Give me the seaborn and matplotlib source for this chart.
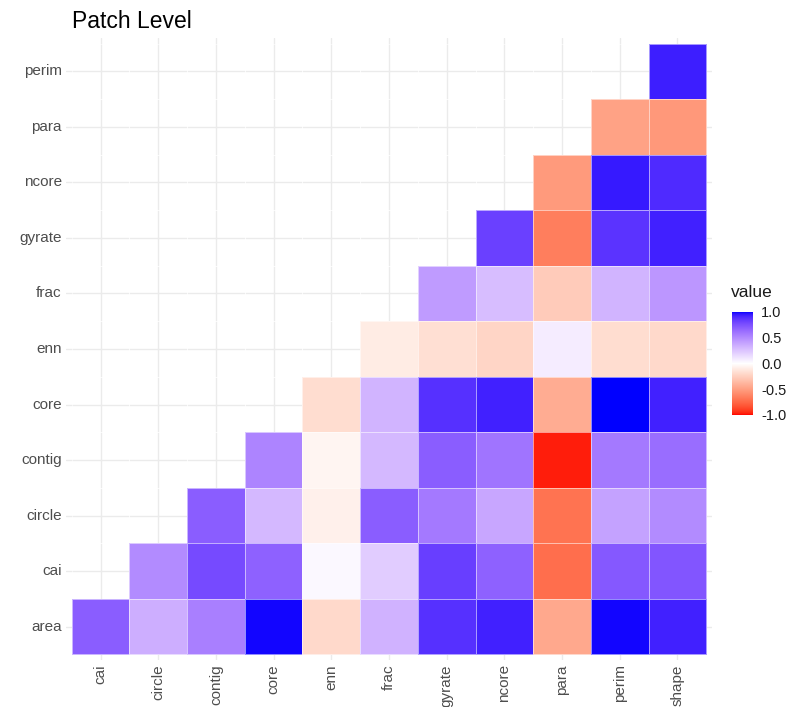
import numpy as np
import pandas as pd
import matplotlib
matplotlib.use("Agg")
import matplotlib.pyplot as plt
from matplotlib.colors import ListedColormap
import seaborn as sns

# Metric names along each axis
x_labels = ["cai", "circle", "contig", "core", "enn", "frac",
            "gyrate", "ncore", "para", "perim", "shape"]
y_labels = ["area", "cai", "circle", "contig", "core", "enn",
            "frac", "gyrate", "ncore", "para", "perim"]

# Correlations per row (row metric vs. the columns to its right)
r_area = [0.70, 0.35, 0.55, 0.99, -0.20, 0.33, 0.88, 0.93, -0.45, 0.99, 0.93]
r_cai = [0.50, 0.78, 0.68, 0.03, 0.22, 0.83, 0.68, -0.72, 0.72, 0.73]
r_circle = [0.70, 0.30, -0.08, 0.70, 0.58, 0.38, -0.70, 0.40, 0.50]
r_contig = [0.53, -0.05, 0.30, 0.70, 0.60, -0.97, 0.58, 0.63]
r_core = [-0.18, 0.32, 0.88, 0.93, -0.43, 1.00, 0.93]
r_enn = [-0.10, -0.17, -0.22, 0.08, -0.18, -0.20]
r_frac = [0.43, 0.28, -0.27, 0.32, 0.45]
r_gyrate = [0.82, -0.65, 0.87, 0.93]
r_ncore = [-0.52, 0.95, 0.90]
r_para = [-0.48, -0.53]
r_perim = [0.94]

rows = [r_area, r_cai, r_circle, r_contig, r_core, r_enn,
        r_frac, r_gyrate, r_ncore, r_para, r_perim]

mat = np.full((len(y_labels), len(x_labels)), np.nan)
for j, row in enumerate(rows):
    mat[j, len(x_labels) - len(row):] = row
df = pd.DataFrame(mat[::-1], index=y_labels[::-1], columns=x_labels)


# Diverging red-white-blue palette interpolated in CIE Lab
def _to_lab(rgb):
    c = np.asarray(rgb, float)
    lin = np.where(c <= 0.04045, c / 12.92, ((c + 0.055) / 1.055) ** 2.4)
    m = np.array([[0.4124564, 0.3575761, 0.1804375],
                  [0.2126729, 0.7151522, 0.0721750],
                  [0.0193339, 0.1191920, 0.9503041]])
    xyz = m @ lin / np.array([0.95047, 1.0, 1.08883])
    f = np.where(xyz > 0.008856, np.cbrt(xyz), 7.787 * xyz + 16 / 116)
    return np.array([116 * f[1] - 16, 500 * (f[0] - f[1]), 200 * (f[1] - f[2])])


def _from_lab(lab):
    L, a, b = lab
    fy = (L + 16) / 116
    fx = fy + a / 500
    fz = fy - b / 200
    f = np.array([fx, fy, fz])
    xyz = np.where(f ** 3 > 0.008856, f ** 3, (f - 16 / 116) / 7.787)
    xyz = xyz * np.array([0.95047, 1.0, 1.08883])
    minv = np.array([[3.2404542, -1.5371385, -0.4985314],
                     [-0.9692660, 1.8760108, 0.0415560],
                     [0.0556434, -0.2040259, 1.0572252]])
    lin = np.clip(minv @ xyz, 0, 1)
    c = np.where(lin <= 0.0031308, 12.92 * lin, 1.055 * lin ** (1 / 2.4) - 0.055)
    return np.clip(c, 0, 1)


low, mid, high = _to_lab([1, 0, 0]), _to_lab([1, 1, 1]), _to_lab([0, 0, 1])
cols = []
for t in np.linspace(-1, 1, 511):
    if t < 0:
        lab = mid + (low - mid) * (-t)
    else:
        lab = mid + (high - mid) * t
    cols.append(_from_lab(lab))
cmap = ListedColormap(cols)

sns.set_style("white")
plt.rcParams["font.family"] = ["Liberation Sans", "DejaVu Sans"]

W, H = 796, 707
fig = plt.figure(figsize=(W / 100, H / 100), dpi=100)
ax = fig.add_axes([66 / W, 1 - 660 / H, 646 / W, 622 / H])
cax = fig.add_axes([732 / W, 1 - 415 / H, 21 / W, 103 / H])

sns.heatmap(df, cmap=cmap, vmin=-1, vmax=1, ax=ax, cbar_ax=cax,
            linewidths=0.5, linecolor=(1, 1, 1, 0.55))

n = len(x_labels)
ax.set_xlim(-0.1, n + 0.1)
ax.set_ylim(n + 0.1, -0.1)
ax.set_axisbelow(True)
ax.grid(True, color="#ebebeb", linewidth=1.0)
for s in ax.spines.values():
    s.set_visible(False)
ax.set_xlabel("")
ax.set_ylabel("")
ax.set_xticks(np.arange(n) + 0.5)
ax.set_xticklabels(x_labels, rotation=90, color="#4d4d4d", fontsize=11)
ax.set_yticks(np.arange(n) + 0.5)
ax.set_yticklabels(y_labels[::-1], rotation=0, color="#4d4d4d", fontsize=11)
ax.tick_params(axis="both", length=0, pad=3)

cax.set_yticks([-1, -0.5, 0, 0.5, 1])
cax.set_yticklabels(["-1.0", "-0.5", "0.0", "0.5", "1.0"])
cax.yaxis.set_ticks_position("both")
cax.tick_params(axis="y", direction="in", colors="white", length=4, width=0.8,
                labelcolor="#1a1a1a", labelsize=10.5, pad=6, left=True, right=True,
                labelleft=False, labelright=True)
for s in cax.spines.values():
    s.set_visible(False)

fig.text(72 / W, 1 - 28 / H, "Patch Level", fontsize=16.5, color="black",
         va="baseline", ha="left")
fig.text(731 / W, 1 - 297 / H, "value", fontsize=12.5, color="#1a1a1a",
         va="baseline", ha="left")

fig.savefig("out.png", dpi=100, facecolor="white")
